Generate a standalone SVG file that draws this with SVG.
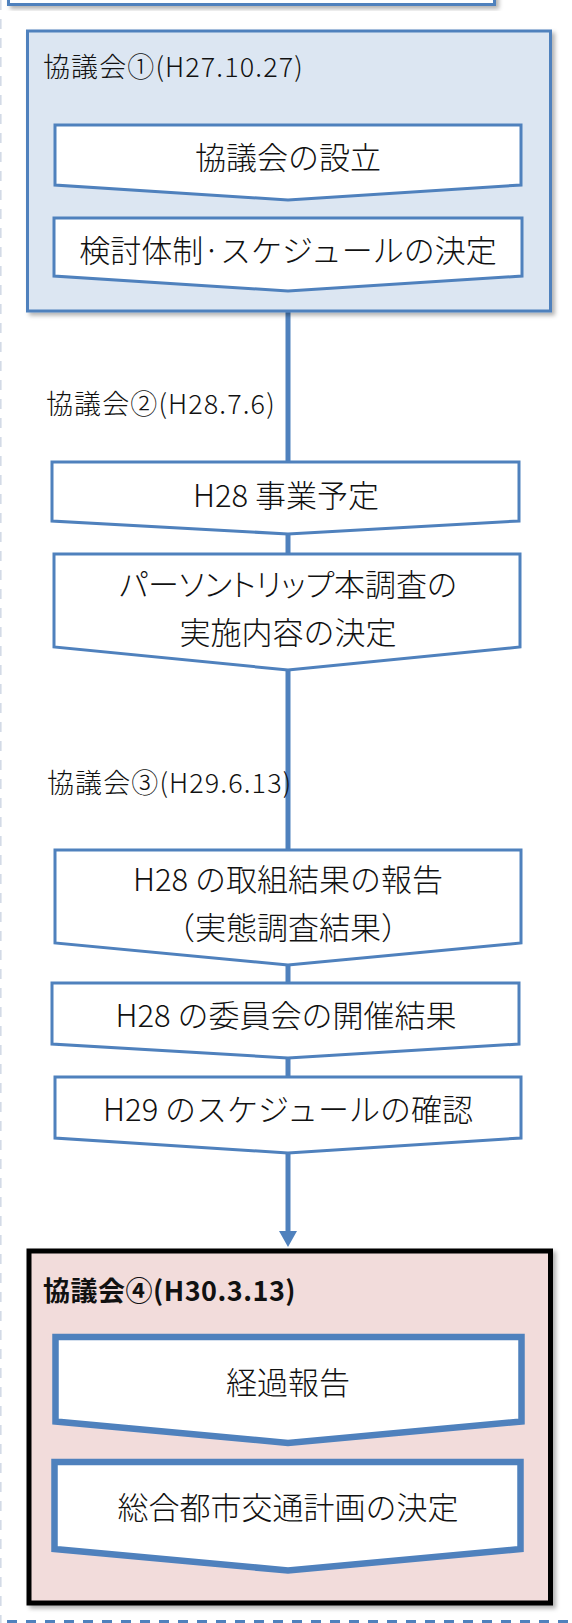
<svg xmlns="http://www.w3.org/2000/svg" width="572" height="1623" viewBox="0 0 572 1623">
<defs>
<style>
.grp1{fill:#DCE6F2;stroke:#4F81BD;stroke-width:3}
.grp4{fill:#F2DCDB;stroke:#000;stroke-width:5}
.box{fill:#fff;stroke:#4F81BD;stroke-width:3;stroke-linejoin:miter}
.boxb{fill:#fff;stroke:#4F81BD;stroke-width:6.5;stroke-linejoin:miter}
.conn{stroke:#4F81BD;stroke-width:5;fill:none}
text{font-family:"Noto Sans CJK JP","Liberation Sans",sans-serif;fill:#111;dominant-baseline:central;font-weight:300}
.t{font-size:31px;text-anchor:middle}
.p{font-feature-settings:"palt"}
.lb{font-size:27px;letter-spacing:1.1px}
.lbb{font-size:27px;font-weight:bold;letter-spacing:0.5px}
</style>
<filter id="sh" x="-5%" y="-5%" width="115%" height="115%">
<feDropShadow dx="3" dy="3" stdDeviation="2" flood-color="#000" flood-opacity="0.3"/>
</filter>
<marker id="arrow" markerUnits="userSpaceOnUse" markerWidth="16" markerHeight="18" viewBox="0 0 16 18" refX="4" refY="9" orient="auto">
<path d="M0,0 L16,9 L0,18 z" fill="#4F81BD"/>
</marker>
</defs>
<rect width="572" height="1623" fill="#fff"/>
<g id="frame">
<line x1="0.8" y1="0" x2="0.8" y2="1623" stroke="#D3DAE6" stroke-width="1.6" stroke-dasharray="10 9"/>
<line x1="0" y1="1621.5" x2="572" y2="1621.5" stroke="#4F81BD" stroke-width="3" stroke-dasharray="10 9" stroke-dashoffset="-7"/>
</g>
<g id="connectors">
<line class="conn" x1="288" y1="311" x2="288" y2="463"/>
<line class="conn" x1="288" y1="533" x2="288" y2="555"/>
<line class="conn" x1="288" y1="669" x2="288" y2="851"/>
<line class="conn" x1="288" y1="964" x2="288" y2="984"/>
<line class="conn" x1="288" y1="1057" x2="288" y2="1078"/>
<line class="conn" x1="288" y1="1152" x2="288" y2="1235" marker-end="url(#arrow)"/>
</g>
<g id="node-top">
<rect x="8.5" y="-60" width="486" height="64.5" fill="#fff" stroke="#4F81BD" stroke-width="3" filter="url(#sh)"/>
</g>
<g id="group-1">
<rect class="grp1" x="27.5" y="31" width="523" height="280" filter="url(#sh)"/>
<text class="lb" x="43" y="65">協議会①(H27.10.27)</text>
<g id="node-1a">
<polygon class="box" points="55,125 521,125 521,185 288,200 55,185"/>
<text class="t" x="288" y="155">協議会の設立</text>
</g>
<g id="node-1b">
<polygon class="box" points="54,218 522,218 522,276 288,291 54,276"/>
<text class="t" x="288" y="248">検討体制·スケジュールの決定</text>
</g>
</g>
<g id="label-2">
<text class="lb" x="46" y="402">協議会②(H28.7.6)</text>
</g>
<g id="node-2a">
<polygon class="box" points="52,462 519,462 519,521 288,534 52,521"/>
<text class="t" x="286" y="493">H28 事業予定</text>
</g>
<g id="node-2b">
<polygon class="box" points="54,554 520,554 520,647 288,670 54,647"/>
<text class="t p" x="288" y="582">パーソントリップ本調査の</text>
<text class="t" x="288" y="630">実施内容の決定</text>
</g>
<g id="label-3">
<text class="lb" x="47" y="781">協議会③(H29.6.13)</text>
</g>
<g id="node-3a">
<polygon class="box" points="55,850 521,850 521,943 288,965 55,943"/>
<text class="t" x="288" y="877">H28 の取組結果の報告</text>
<text class="t" x="288" y="925">（実態調査結果）</text>
</g>
<g id="node-3b">
<polygon class="box" points="52,983 519,983 519,1044 288,1058 52,1044"/>
<text class="t" x="286" y="1013">H28 の委員会の開催結果</text>
</g>
<g id="node-3c">
<polygon class="box" points="55,1077 521,1077 521,1138 288,1153 55,1138"/>
<text class="t" x="288" y="1107">H29 のスケジュールの確認</text>
</g>
<g id="group-4">
<rect class="grp4" x="29" y="1251" width="521.5" height="352" filter="url(#sh)"/>
<text class="lbb" x="43" y="1289">協議会④(H30.3.13)</text>
<g id="node-4a">
<polygon class="boxb" points="55.5,1337 521.5,1337 521.5,1421.5 288,1443 55.5,1421.5"/>
<text class="t" x="288" y="1380">経過報告</text>
</g>
<g id="node-4b">
<polygon class="boxb" points="54.5,1462 520.5,1462 520.5,1549 288,1570.5 54.5,1549"/>
<text class="t" x="288" y="1505">総合都市交通計画の決定</text>
</g>
</g>
</svg>
